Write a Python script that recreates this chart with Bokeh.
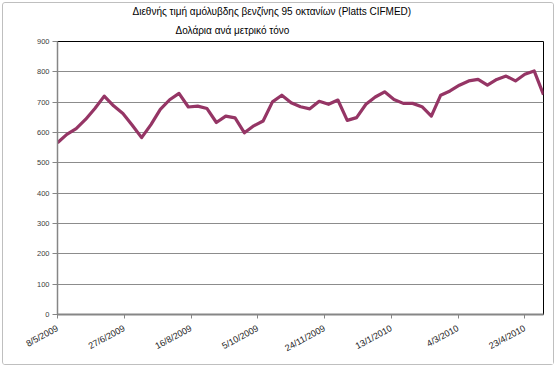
import pandas as pd
from bokeh.plotting import figure
from bokeh.models import FixedTicker, Range1d, Title
from bokeh.embed import file_html
from bokeh.resources import INLINE

title_line1 = "Διεθνής τιμή αμόλυβδης βενζίνης 95 οκτανίων (Platts CIFMED)"
title_line2 = "Δολάρια ανά μετρικό τόνο"

start_date = "2009-05-08"
n_weeks = 53
prices = [566, 594, 613, 643, 679, 720, 688, 663, 624, 583,
          626, 676, 708, 729, 684, 687, 679, 633, 654, 648,
          599, 622, 638, 701, 723, 698, 685, 678, 703, 693,
          707, 640, 649, 693, 717, 734, 709, 696, 696, 685,
          654, 723, 737, 756, 770, 775, 756, 775, 786, 770,
          792, 803, 725]
tick_dates = ["2009-05-08", "2009-06-27", "2009-08-16", "2009-10-05",
              "2009-11-24", "2010-01-13", "2010-03-04", "2010-04-23"]
tick_labels = ["8/5/2009", "27/6/2009", "16/8/2009", "5/10/2009",
               "24/11/2009", "13/1/2010", "4/3/2010", "23/4/2010"]
y_ticks = [0, 100, 200, 300, 400, 500, 600, 700, 800, 900]

dates = pd.date_range(start_date, periods=n_weeks, freq="7D")

p = figure(width=552, height=363, x_axis_type="datetime", title=None,
           output_backend="svg", toolbar_location=None,
           min_border_left=54, min_border_right=12,
           min_border_top=38, min_border_bottom=52)
p.margin = (2, 2, 2, 2)
p.x_range = Range1d(dates[0], dates[-1])
p.y_range = Range1d(0, 900)

p.line(dates, prices, line_color="#953565", line_width=3.2, line_join="round")

tick_ms = [pd.Timestamp(d).value / 1e6 for d in tick_dates]
p.xaxis.ticker = FixedTicker(ticks=tick_ms)
p.xaxis.major_label_overrides = {t: l for t, l in zip(tick_ms, tick_labels)}
p.xaxis.major_label_orientation = 0.5
p.xaxis.major_label_text_font = "Liberation Sans"
p.xaxis.major_label_text_font_size = "9px"
p.xaxis.major_label_text_color = "#262626"
p.xaxis.axis_line_color = "#868686"
p.xaxis.axis_line_width = 2
p.xaxis.major_tick_line_color = "#868686"
p.xaxis.major_tick_out = 4
p.xaxis.major_tick_in = 0
p.xaxis.minor_tick_line_color = None
p.xaxis.major_label_standoff = 9

p.yaxis.ticker = FixedTicker(ticks=y_ticks)
p.yaxis.major_label_text_font = "Liberation Sans"
p.yaxis.major_label_text_font_size = "7.5px"
p.yaxis.major_label_text_color = "#404040"
p.yaxis.axis_line_color = "#868686"
p.yaxis.axis_line_width = 1.5
p.yaxis.major_tick_line_color = "#868686"
p.yaxis.major_tick_out = 5
p.yaxis.major_tick_in = 0
p.yaxis.minor_tick_line_color = None
p.yaxis.major_label_standoff = 3

p.xgrid.grid_line_color = None
p.ygrid.grid_line_color = "#8c8c8c"
p.ygrid.grid_line_width = 1

p.outline_line_color = "#000000"
p.outline_line_width = 1
p.background_fill_color = "white"
p.border_fill_color = "white"

t2 = Title(text=title_line2, align="left", offset=118, standoff=12,
           text_font="Liberation Sans", text_font_size="10px",
           text_font_style="normal", text_color="#000000")
t1 = Title(text=title_line1, align="left", offset=75, standoff=0,
           text_font="Liberation Sans", text_font_size="10px",
           text_font_style="normal", text_color="#000000")
p.add_layout(t2, "above")
p.add_layout(t1, "above")

p.styles = {"border": "1px solid #bfbfbf", "border-radius": "3px"}

open("out.html", "w").write(file_html(p, INLINE))
